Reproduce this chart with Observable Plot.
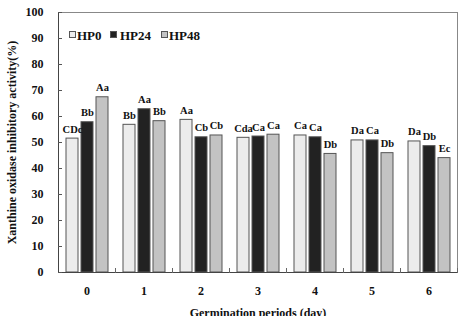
<!DOCTYPE html>
<html>
<head>
<meta charset="utf-8">
<script src="https://cdn.jsdelivr.net/npm/d3@7"></script>
<script src="https://cdn.jsdelivr.net/npm/@observablehq/plot@0.6"></script>
<style>
  html, body { margin: 0; padding: 0; background: #fff; }
  #wrap { position: relative; width: 463px; height: 316px; overflow: hidden; }
  .legend { position: absolute; top: 0; left: 0; font-family: "Liberation Serif", serif; font-weight: bold; font-size: 13px; line-height: 13px; color: #111; }
  .legend .item { position: absolute; top: 29px; white-space: nowrap; }
  .legend .sw { position: absolute; top: 31px; width: 5px; height: 5px; border: 1px solid #555; }
</style>
</head>
<body>
<div id="wrap"></div>
<script>
// ---- data ----
const days = [0, 1, 2, 3, 4, 5, 6];
const series = ["HP0", "HP24", "HP48"];
const hp0  = [51.5, 56.8, 58.7, 51.8, 52.7, 50.8, 50.4];
const hp24 = [57.8, 62.8, 52.0, 52.3, 52.0, 50.8, 48.6];
const hp48 = [67.4, 58.2, 52.7, 53.0, 45.6, 45.9, 44.0];
const hp0Labels  = ["CDc", "Bb", "Aa", "Cda", "Ca", "Da", "Da"];
const hp24Labels = ["Bb", "Aa", "Cb", "Ca", "Ca", "Ca", "Db"];
const hp48Labels = ["Aa", "Bb", "Cb", "Ca", "Db", "Db", "Ec"];
const yTicks = [0, 10, 20, 30, 40, 50, 60, 70, 80, 90, 100];
const colors = ["#ececec", "#222222", "#c3c3c3"];

const valueSets = [hp0, hp24, hp48];
const labelSets = [hp0Labels, hp24Labels, hp48Labels];
const rows = [];
days.forEach((d, i) => series.forEach((s, j) => rows.push({day: d, series: s, value: valueSets[j][i], label: labelSets[j][i]})));

const font = "'Liberation Serif', 'Times New Roman', serif";
const firstDay = days[0];
const lastDay = days[days.length - 1];

const chart = Plot.plot({
  width: 463,
  height: 316,
  marginLeft: 56,
  marginRight: 5,
  marginTop: 12,
  marginBottom: 44,
  style: {fontFamily: font, fontWeight: "bold", fontSize: "13px", background: "#fff", color: "#111"},
  fx: {domain: days, padding: 0, label: null},
  x: {domain: series, paddingInner: 0.23, paddingOuter: 0.47, axis: null},
  y: {domain: [0, 100]},
  color: {domain: series, range: colors},
  marks: [
    Plot.barY(rows, {fx: "day", x: "series", y: "value", fill: "series", stroke: "#555", strokeWidth: 1}),
    Plot.text(rows, {fx: "day", x: "series", y: "value", text: "label", lineAnchor: "bottom", dy: -6, fontSize: 10.5, fill: "#111"}),
    Plot.frame({anchor: "top", stroke: "#888"}),
    Plot.frame({fx: () => lastDay, anchor: "right", stroke: "#888"}),
    Plot.frame({fx: () => firstDay, anchor: "left", stroke: "#444"}),
    Plot.ruleY([0], {stroke: "#444"}),
    Plot.frame({anchor: "right", insetTop: 256, stroke: "#666"}),
    Plot.axisY({ticks: yTicks, tickSize: 0, tickPadding: 15, fontSize: 12, label: "Xanthine oxidase inhibitory activity(%)", labelAnchor: "center", labelOffset: 51, labelArrow: false}),
    Plot.axisY({ticks: yTicks, text: null, tickSize: 4, dx: 4, label: null, stroke: "#555"}),
    Plot.axisFx({anchor: "bottom", tickSize: 0, tickPadding: 14, fontSize: 12, label: "Germination periods (day)", labelAnchor: "center", labelOffset: 44, labelArrow: false})
  ]
});
const wrap = document.getElementById("wrap");
wrap.appendChild(chart);

// legend inside plot area
const legend = document.createElement("div");
legend.className = "legend";
const legendX = [[69, 77], [110, 120], [161, 169]];
series.forEach((s, j) => {
  const sw = document.createElement("div");
  sw.className = "sw";
  sw.style.left = legendX[j][0] + "px";
  sw.style.background = colors[j];
  legend.appendChild(sw);
  const t = document.createElement("div");
  t.className = "item";
  t.style.left = legendX[j][1] + "px";
  t.textContent = s;
  legend.appendChild(t);
});
wrap.appendChild(legend);
</script>
</body>
</html>
